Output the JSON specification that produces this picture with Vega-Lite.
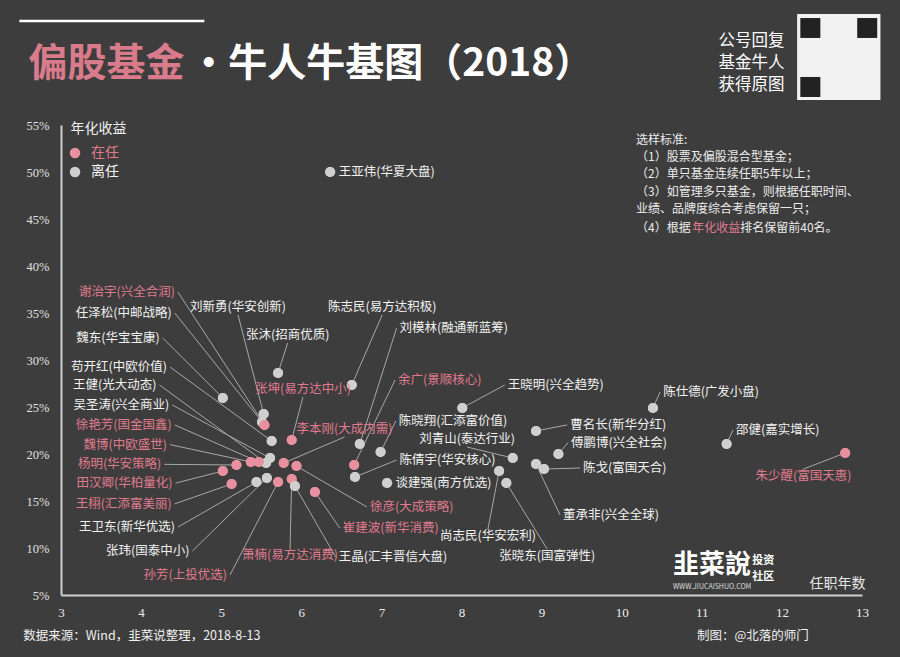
{
  "$schema": "https://vega.github.io/schema/vega-lite/v6.json",
  "width": 801,
  "height": 470,
  "autosize": {"type": "none"},
  "padding": {"left": 61, "top": 125, "right": 38, "bottom": 62},
  "background": "#3d3d3d",
  "config": {
    "view": {"stroke": null},
    "font": "Noto Sans CJK SC",
    "axis": {
      "grid": false, "ticks": false, "tickSize": 0,
      "domainColor": "#d0d0d0", "domainWidth": 2,
      "labelFont": "Liberation Serif", "titleFont": "Noto Sans CJK SC", "titleFontWeight": "normal"
    }
  },
  "datasets": {
    "managers": [
      {"label": "王亚伟(华夏大盘)", "status": "离任", "years": 6.36, "ret": 50.0, "lx": 6.43, "ly": 50.0, "pos": "R"},
      {"label": "陈仕德(广发小盘)", "status": "离任", "years": 10.39, "ret": 24.9, "lx": 10.48, "ly": 26.6, "pos": "R"},
      {"label": "邵健(嘉实增长)", "status": "离任", "years": 11.31, "ret": 21.06, "lx": 11.39, "ly": 22.55, "pos": "R"},
      {"label": "朱少醒(富国天惠)", "status": "在任", "years": 12.79, "ret": 20.11, "lx": 12.27, "ly": 18.4, "pos": "B"},
      {"label": "王晓明(兴全趋势)", "status": "离任", "years": 8.01, "ret": 24.9, "lx": 8.54, "ly": 27.34, "pos": "R"},
      {"label": "曹名长(新华分红)", "status": "离任", "years": 8.93, "ret": 22.45, "lx": 9.32, "ly": 23.1, "pos": "R"},
      {"label": "傅鹏博(兴全社会)", "status": "离任", "years": 9.21, "ret": 20.0, "lx": 9.33, "ly": 21.2, "pos": "R"},
      {"label": "陈戈(富国天合)", "status": "离任", "years": 9.03, "ret": 18.4, "lx": 9.48, "ly": 18.51, "pos": "R"},
      {"label": "董承非(兴全全球)", "status": "离任", "years": 8.93, "ret": 18.94, "lx": 9.23, "ly": 13.51, "pos": "R"},
      {"label": "刘青山(泰达行业)", "status": "离任", "years": 8.64, "ret": 19.57, "lx": 8.07, "ly": 20.74, "pos": "T"},
      {"label": "尚志民(华安宏利)", "status": "离任", "years": 8.47, "ret": 18.19, "lx": 8.33, "ly": 12.02, "pos": "B"},
      {"label": "张晓东(国富弹性)", "status": "离任", "years": 8.56, "ret": 16.91, "lx": 9.07, "ly": 9.89, "pos": "B"},
      {"label": "谈建强(南方优选)", "status": "离任", "years": 7.07, "ret": 16.91, "lx": 7.14, "ly": 16.91, "pos": "R"},
      {"label": "陈倩宇(华安核心)", "status": "离任", "years": 6.67, "ret": 17.55, "lx": 7.19, "ly": 19.36, "pos": "R"},
      {"label": "余广(景顺核心)", "status": "在任", "years": 6.66, "ret": 18.83, "lx": 7.17, "ly": 27.87, "pos": "R"},
      {"label": "陈晓翔(汇添富价值)", "status": "离任", "years": 6.99, "ret": 20.21, "lx": 7.18, "ly": 23.51, "pos": "R"},
      {"label": "刘模林(融通新蓝筹)", "status": "离任", "years": 6.73, "ret": 21.06, "lx": 7.19, "ly": 33.4, "pos": "R"},
      {"label": "陈志民(易方达积极)", "status": "离任", "years": 6.63, "ret": 27.34, "lx": 7.01, "ly": 34.79, "pos": "T"},
      {"label": "张沐(招商优质)", "status": "离任", "years": 5.71, "ret": 28.62, "lx": 5.83, "ly": 31.81, "pos": "T"},
      {"label": "魏东(华宝宝康)", "status": "离任", "years": 5.02, "ret": 25.96, "lx": 4.27, "ly": 32.34, "pos": "L"},
      {"label": "刘新勇(华安创新)", "status": "离任", "years": 5.53, "ret": 24.26, "lx": 5.21, "ly": 34.79, "pos": "T"},
      {"label": "任泽松(中邮战略)", "status": "离任", "years": 5.51, "ret": 23.4, "lx": 4.42, "ly": 35.0, "pos": "L"},
      {"label": "谢治宇(兴全合润)", "status": "在任", "years": 5.54, "ret": 23.09, "lx": 4.46, "ly": 37.23, "pos": "L"},
      {"label": "张坤(易方达中小)", "status": "在任", "years": 5.88, "ret": 21.49, "lx": 6.02, "ly": 26.06, "pos": "T"},
      {"label": "苟开红(中欧价值)", "status": "离任", "years": 5.63, "ret": 21.38, "lx": 4.36, "ly": 29.26, "pos": "L"},
      {"label": "李本刚(大成内需)", "status": "在任", "years": 5.78, "ret": 19.04, "lx": 6.54, "ly": 21.81, "pos": "T"},
      {"label": "徐彦(大成策略)", "status": "在任", "years": 5.94, "ret": 18.72, "lx": 6.82, "ly": 14.36, "pos": "R"},
      {"label": "王健(光大动态)", "status": "离任", "years": 5.56, "ret": 19.04, "lx": 4.23, "ly": 27.34, "pos": "L"},
      {"label": "吴圣涛(兴全商业)", "status": "离任", "years": 5.61, "ret": 19.57, "lx": 4.39, "ly": 25.21, "pos": "L"},
      {"label": "徐艳芳(国金国鑫)", "status": "在任", "years": 5.47, "ret": 19.15, "lx": 4.42, "ly": 23.09, "pos": "L"},
      {"label": "魏博(中欧盛世)", "status": "在任", "years": 5.37, "ret": 19.15, "lx": 4.36, "ly": 21.0, "pos": "L"},
      {"label": "杨明(华安策略)", "status": "在任", "years": 5.19, "ret": 18.83, "lx": 4.29, "ly": 18.9, "pos": "L"},
      {"label": "田汉卿(华柏量化)", "status": "在任", "years": 5.02, "ret": 18.19, "lx": 4.43, "ly": 16.9, "pos": "L"},
      {"label": "王栩(汇添富美丽)", "status": "在任", "years": 5.13, "ret": 16.81, "lx": 4.42, "ly": 14.7, "pos": "L"},
      {"label": "王卫东(新华优选)", "status": "离任", "years": 5.44, "ret": 17.02, "lx": 4.46, "ly": 12.23, "pos": "L"},
      {"label": "张玮(国泰中小)", "status": "离任", "years": 5.57, "ret": 17.45, "lx": 4.64, "ly": 9.68, "pos": "L"},
      {"label": "孙芳(上投优选)", "status": "在任", "years": 5.71, "ret": 17.02, "lx": 5.11, "ly": 7.13, "pos": "L"},
      {"label": "萧楠(易方达消费)", "status": "在任", "years": 5.88, "ret": 17.34, "lx": 5.86, "ly": 10.0, "pos": "B"},
      {"label": "王晶(汇丰晋信大盘)", "status": "离任", "years": 5.92, "ret": 16.6, "lx": 6.43, "ly": 9.04, "pos": "R"},
      {"label": "崔建波(新华消费)", "status": "在任", "years": 6.17, "ret": 15.96, "lx": 6.48, "ly": 12.13, "pos": "R"}
    ]
  },
  "data": {"name": "managers"},
  "layer": [
    {
      "mark": {"type": "circle", "size": 100, "opacity": 1},
      "encoding": {
        "x": {
          "field": "years", "type": "quantitative",
          "scale": {"domain": [3, 13], "nice": false, "zero": false},
          "axis": {
            "title": "任职年数", "values": [3, 4, 5, 6, 7, 8, 9, 10, 11, 12, 13], "format": "d",
            "labelColor": "#eeeeee", "labelFontSize": 13,
            "labelPadding": 11, "labelFlush": false,
            "titleColor": "#e6e6e6", "titleFontSize": 14,
            "titleX": 804, "titleY": -12,
            "titleAlign": "right", "titleBaseline": "middle"
          }
        },
        "y": {
          "field": "ret", "type": "quantitative",
          "scale": {"domain": [5, 55], "nice": false, "zero": false},
          "axis": {
            "title": "年化收益", "values": [5, 10, 15, 20, 25, 30, 35, 40, 45, 50, 55],
            "labelExpr": "datum.value + '%'",
            "labelColor": "#e0e0e0", "labelFontSize": 12.5,
            "labelPadding": 12,
            "titleAngle": 0, "titleX": 9, "titleY": 3, "titleAlign": "left", "titleBaseline": "middle",
            "titleColor": "#f0f0f0", "titleFontSize": 14
          }
        },
        "color": {
          "field": "status", "type": "nominal",
          "scale": {"domain": ["在任", "离任"], "range": ["#e8909f", "#cfcfcf"]},
          "legend": {
            "title": null, "orient": "none", "legendX": 7, "legendY": 21, "direction": "vertical",
            "symbolType": "circle", "symbolSize": 110, "symbolStrokeWidth": 0,
            "labelFontSize": 14, "labelOffset": 9, "rowPadding": 5, "padding": 0,
            "labelFont": "Noto Sans CJK SC",
            "labelColor": {"expr": "datum.label == '在任' ? '#e07b8d' : '#f2f2f2'"}
          }
        }
      }
    },
    {
      "mark": {"type": "rule", "color": "#a8a8a8", "strokeWidth": 1},
      "encoding": {
        "x": {"field": "years", "type": "quantitative"},
        "y": {"field": "ret", "type": "quantitative"},
        "x2": {"field": "lx"},
        "y2": {"field": "ly"}
      }
    },
    {
      "mark": {"type": "circle", "size": 100, "opacity": 1},
      "encoding": {
        "x": {"field": "years", "type": "quantitative"},
        "y": {"field": "ret", "type": "quantitative"},
        "color": {"field": "status", "type": "nominal"}
      }
    },
    {
      "transform": [{"filter": "datum.pos === 'L'"}],
      "mark": {"type": "text", "align": "right", "baseline": "middle", "dx": -3, "fontSize": 12.5},
      "encoding": {
        "x": {"field": "lx", "type": "quantitative"},
        "y": {"field": "ly", "type": "quantitative"},
        "text": {"field": "label"},
        "color": {"condition": {"test": "datum.status === '在任'", "value": "#e07b8d"}, "value": "#f2f2f2"}
      }
    },
    {
      "transform": [{"filter": "datum.pos === 'R'"}],
      "mark": {"type": "text", "align": "left", "baseline": "middle", "dx": 3, "fontSize": 12.5},
      "encoding": {
        "x": {"field": "lx", "type": "quantitative"},
        "y": {"field": "ly", "type": "quantitative"},
        "text": {"field": "label"},
        "color": {"condition": {"test": "datum.status === '在任'", "value": "#e07b8d"}, "value": "#f2f2f2"}
      }
    },
    {
      "transform": [{"filter": "datum.pos === 'T'"}],
      "mark": {"type": "text", "align": "center", "baseline": "bottom", "dy": -1, "fontSize": 12.5},
      "encoding": {
        "x": {"field": "lx", "type": "quantitative"},
        "y": {"field": "ly", "type": "quantitative"},
        "text": {"field": "label"},
        "color": {"condition": {"test": "datum.status === '在任'", "value": "#e07b8d"}, "value": "#f2f2f2"}
      }
    },
    {
      "transform": [{"filter": "datum.pos === 'B'"}],
      "mark": {"type": "text", "align": "center", "baseline": "top", "dy": 1, "fontSize": 12.5},
      "encoding": {
        "x": {"field": "lx", "type": "quantitative"},
        "y": {"field": "ly", "type": "quantitative"},
        "text": {"field": "label"},
        "color": {"condition": {"test": "datum.status === '在任'", "value": "#e07b8d"}, "value": "#f2f2f2"}
      }
    },
    {
      "data": {"values": [{}]},
      "mark": {"type": "rule", "color": "#ffffff", "strokeWidth": 2.5},
      "encoding": {"x": {"datum": 2.48}, "x2": {"datum": 4.79}, "y": {"datum": 66.06}}
    },
    {
      "data": {"values": [{}]},
      "mark": {"type": "text", "text": "偏股基金", "align": "left", "baseline": "middle", "fontSize": 39, "fontWeight": "bold", "color": "#da7b8c"},
      "encoding": {"x": {"datum": 2.594}, "y": {"datum": 61.5}}
    },
    {
      "data": {"values": [{}]},
      "mark": {"type": "text", "text": "•牛人牛基图（2018）", "align": "left", "baseline": "middle", "fontSize": 39, "fontWeight": "bold", "color": "#ffffff"},
      "encoding": {"x": {"datum": 4.6}, "y": {"datum": 61.5}}
    },
    {
      "data": {"values": [{}]},
      "mark": {"type": "text", "text": ["公号回复", "基金牛人", "获得原图"], "align": "center", "baseline": "top", "fontSize": 16.5, "lineHeight": 22, "color": "#ffffff"},
      "encoding": {"x": {"datum": 11.62}, "y": {"datum": 64.79}}
    },
    {
      "data": {"values": [{}]},
      "mark": {"type": "rect", "color": "#f2f2f2"},
      "encoding": {"x": {"datum": 12.19}, "x2": {"datum": 13.23}, "y": {"datum": 66.81}, "y2": {"datum": 57.66}}
    },
    {
      "data": {"values": [{}]},
      "mark": {"type": "rect", "color": "#222222"},
      "encoding": {"x": {"datum": 12.23}, "x2": {"datum": 12.48}, "y": {"datum": 66.38}, "y2": {"datum": 64.26}}
    },
    {
      "data": {"values": [{}]},
      "mark": {"type": "rect", "color": "#222222"},
      "encoding": {"x": {"datum": 12.94}, "x2": {"datum": 13.19}, "y": {"datum": 66.38}, "y2": {"datum": 64.26}}
    },
    {
      "data": {"values": [{}]},
      "mark": {"type": "rect", "color": "#222222"},
      "encoding": {"x": {"datum": 12.23}, "x2": {"datum": 12.48}, "y": {"datum": 60.11}, "y2": {"datum": 57.98}}
    },
    {
      "data": {"values": [{}]},
      "mark": {"type": "text", "text": ["选样标准:", "（1）股票及偏股混合型基金；", "（2）单只基金连续任职5年以上；", "（3）如管理多只基金，则根据任职时间、", "业绩、品牌度综合考虑保留一只；"], "align": "left", "baseline": "top", "fontSize": 12, "lineHeight": 17.2, "color": "#ececec"},
      "encoding": {"x": {"datum": 10.18}, "y": {"datum": 53.94}}
    },
    {
      "data": {"values": [{}]},
      "mark": {"type": "text", "text": "（4）根据", "align": "left", "baseline": "middle", "fontSize": 12, "color": "#ececec"},
      "encoding": {"x": {"datum": 10.18}, "y": {"datum": 44.04}}
    },
    {
      "data": {"values": [{}]},
      "mark": {"type": "text", "text": "年化收益", "align": "left", "baseline": "middle", "fontSize": 12, "color": "#e07b8d"},
      "encoding": {"x": {"datum": 10.88}, "y": {"datum": 44.04}}
    },
    {
      "data": {"values": [{}]},
      "mark": {"type": "text", "text": "排名保留前40名。", "align": "left", "baseline": "middle", "fontSize": 12, "color": "#ececec"},
      "encoding": {"x": {"datum": 11.48}, "y": {"datum": 44.04}}
    },
    {
      "data": {"values": [{}]},
      "mark": {"type": "text", "text": "韭菜說", "align": "left", "baseline": "middle", "fontSize": 26, "fontWeight": "bold", "color": "#ffffff"},
      "encoding": {"x": {"datum": 10.64}, "y": {"datum": 8.19}}
    },
    {
      "data": {"values": [{}]},
      "mark": {"type": "text", "text": "投资", "align": "left", "baseline": "middle", "fontSize": 11, "fontWeight": "bold", "color": "#ffffff"},
      "encoding": {"x": {"datum": 11.63}, "y": {"datum": 8.65}}
    },
    {
      "data": {"values": [{}]},
      "mark": {"type": "text", "text": "社区", "align": "left", "baseline": "middle", "fontSize": 11, "fontWeight": "bold", "color": "#ffffff"},
      "encoding": {"x": {"datum": 11.63}, "y": {"datum": 6.95}}
    },
    {
      "data": {"values": [{}]},
      "mark": {"type": "text", "text": "WWW.JIUCAISHUO.COM", "align": "left", "baseline": "middle", "fontSize": 7, "color": "#dddddd"},
      "encoding": {"x": {"datum": 10.64}, "y": {"datum": 5.85}}
    },
    {
      "data": {"values": [{}]},
      "mark": {"type": "text", "text": "数据来源：Wind，韭菜说整理，2018-8-13", "align": "left", "baseline": "middle", "fontSize": 12.5, "color": "#f0f0f0"},
      "encoding": {"x": {"datum": 2.53}, "y": {"datum": 0.64}}
    },
    {
      "data": {"values": [{}]},
      "mark": {"type": "text", "text": "制图：@北落的师门", "align": "left", "baseline": "middle", "fontSize": 12.5, "color": "#f0f0f0"},
      "encoding": {"x": {"datum": 10.94}, "y": {"datum": 0.64}}
    }
  ]
}
